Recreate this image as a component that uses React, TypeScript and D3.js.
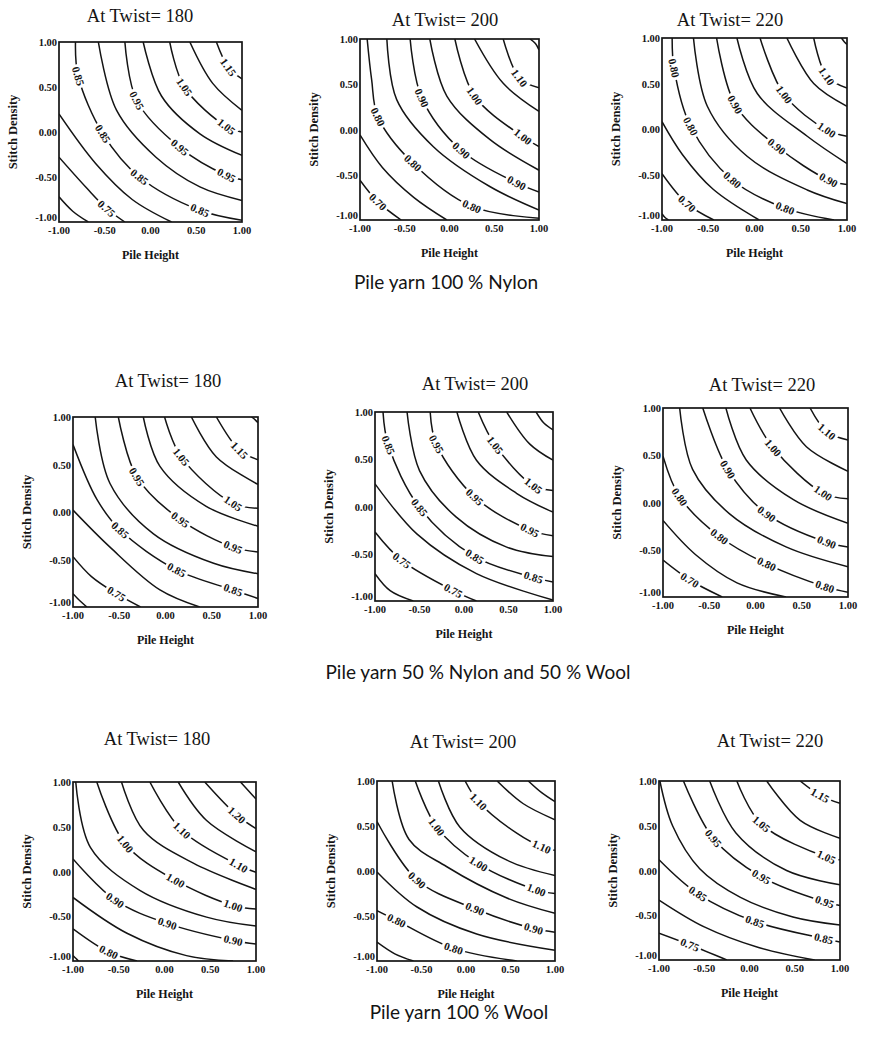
import * as d3 from "d3";

// [level, contour points in (pile height, stitch density), indices of labelled points]
type Contour = [number, [number, number][], number[]];

const nylon180: Contour[] = [
  [0.7, [[-1, -0.72], [-0.85, -0.88], [-0.68, -1]], []],
  [0.75, [[-1, -0.28], [-0.7, -0.62], [-0.48, -0.85], [-0.28, -1]], [2]],
  [0.8, [[-1, 0.2], [-0.6, -0.35], [-0.2, -0.75], [0.23, -1]], []],
  [0.85, [[-0.82, 1], [-0.79, 0.62], [-0.52, -0.02], [-0.12, -0.5], [0.54, -0.87], [1, -0.98]], [1, 2, 3, 4]],
  [0.9, [[-0.57, 1], [-0.37, 0.24], [0.06, -0.28], [0.54, -0.61], [1, -0.76]], []],
  [0.95, [[-0.28, 1], [-0.15, 0.35], [0.32, -0.17], [0.83, -0.48], [1, -0.53]], [1, 2, 3]],
  [1.0, [[-0.08, 1], [0.12, 0.4], [0.54, -0.02], [1, -0.26]], []],
  [1.05, [[0.21, 1], [0.37, 0.5], [0.83, 0.06], [1, 0]], [1, 2]],
  [1.1, [[0.43, 1], [0.68, 0.54], [1, 0.24]], []],
  [1.15, [[0.72, 1], [0.85, 0.72], [1, 0.59]], [1]],
];

const nylon200: Contour[] = [
  [0.7, [[-1, -0.56], [-0.8, -0.8], [-0.54, -1]], [1]],
  [0.75, [[-1, -0.06], [-0.75, -0.42], [-0.4, -0.75], [-0.03, -1]], []],
  [0.8, [[-0.92, 1], [-0.87, 0.55], [-0.8, 0.14], [-0.41, -0.37], [0.25, -0.85], [1, -0.98]], [2, 3, 4]],
  [0.85, [[-0.7, 1], [-0.59, 0.33], [-0.18, -0.19], [0.45, -0.63], [1, -0.89]], []],
  [0.9, [[-0.44, 1], [-0.31, 0.35], [0.13, -0.23], [0.75, -0.59], [1, -0.69]], [1, 2, 3]],
  [0.95, [[-0.22, 1], [-0.03, 0.37], [0.45, -0.11], [1, -0.45]], []],
  [1.0, [[0.06, 1], [0.28, 0.37], [0.82, -0.08], [1, -0.19]], [1, 2]],
  [1.05, [[0.28, 1], [0.6, 0.51], [1, 0.2]], []],
  [1.1, [[0.6, 1], [0.78, 0.57], [1, 0.46]], [1]],
  [1.15, [[0.9, 1], [0.96, 0.95], [1, 0.88]], []],
];

const nylon220: Contour[] = [
  [0.65, [[-1, -0.93], [-0.97, -0.97], [-0.93, -1]], []],
  [0.7, [[-1, -0.49], [-0.73, -0.82], [-0.44, -1]], [1]],
  [0.75, [[-1, 0.08], [-0.78, -0.28], [-0.45, -0.66], [0.05, -1]], []],
  [0.8, [[-0.89, 1], [-0.87, 0.67], [-0.69, 0.03], [-0.24, -0.56], [0.33, -0.87], [0.86, -1]], [1, 2, 3, 4]],
  [0.85, [[-0.66, 1], [-0.51, 0.25], [-0.08, -0.3], [0.57, -0.67], [1, -0.82]], []],
  [0.9, [[-0.41, 1], [-0.21, 0.27], [0.24, -0.19], [0.8, -0.56], [1, -0.61]], [1, 2, 3]],
  [0.95, [[-0.19, 1], [0.03, 0.39], [0.57, -0.08], [1, -0.38]], []],
  [1.0, [[0.06, 1], [0.32, 0.38], [0.78, -0.01], [1, -0.08]], [1, 2]],
  [1.05, [[0.35, 1], [0.64, 0.5], [1, 0.25]], []],
  [1.1, [[0.64, 1], [0.78, 0.58], [1, 0.45]], [1]],
  [1.15, [[0.94, 1], [0.97, 0.96], [1, 0.93]], []],
];

const blend180: Contour[] = [
  [0.7, [[-1, -0.86], [-0.92, -0.94], [-0.85, -1]], []],
  [0.75, [[-1, -0.47], [-0.8, -0.68], [-0.53, -0.86], [-0.27, -1]], [2]],
  [0.8, [[-1, 0.02], [-0.6, -0.37], [-0.06, -0.82], [0.37, -1]], []],
  [0.85, [[-1, 0.71], [-0.74, 0.13], [-0.49, -0.19], [0.12, -0.61], [0.73, -0.82], [1, -0.91]], [2, 3, 4]],
  [0.9, [[-0.76, 1], [-0.6, 0.3], [-0.13, -0.23], [0.52, -0.54], [1, -0.65]], []],
  [0.95, [[-0.51, 1], [-0.31, 0.37], [0.16, -0.08], [0.73, -0.37], [1, -0.42]], [1, 2, 3]],
  [1.0, [[-0.24, 1], [-0.06, 0.48], [0.44, 0.06], [1, -0.15]], []],
  [1.05, [[-0.01, 1], [0.17, 0.58], [0.73, 0.09], [1, 0.04]], [1, 2]],
  [1.1, [[0.28, 1], [0.55, 0.58], [1, 0.29]], []],
  [1.15, [[0.55, 1], [0.8, 0.65], [1, 0.55]], [1]],
  [1.2, [[0.93, 1], [0.97, 0.97], [1, 0.94]], []],
];

const blend200: Contour[] = [
  [0.7, [[-1, -0.71], [-0.83, -0.89], [-0.57, -1]], []],
  [0.75, [[-1, -0.27], [-0.7, -0.57], [-0.12, -0.89], [0.14, -1]], [1, 2]],
  [0.8, [[-1, 0.24], [-0.53, -0.29], [0.14, -0.71], [1, -0.99]], []],
  [0.85, [[-0.91, 1], [-0.85, 0.65], [-0.5, -0.01], [0.12, -0.53], [0.78, -0.75], [1, -0.8]], [1, 2, 3, 4]],
  [0.9, [[-0.64, 1], [-0.5, 0.38], [-0.09, -0.11], [0.48, -0.43], [1, -0.53]], []],
  [0.95, [[-0.38, 1], [-0.31, 0.66], [0.12, 0.1], [0.74, -0.25], [1, -0.31]], [1, 2, 3]],
  [1.0, [[-0.08, 1], [0.14, 0.49], [0.59, 0.14], [1, -0.06]], []],
  [1.05, [[0.16, 1], [0.35, 0.65], [0.78, 0.22], [1, 0.17]], [1, 2]],
  [1.1, [[0.48, 1], [0.74, 0.66], [1, 0.49]], []],
  [1.15, [[0.81, 1], [0.9, 0.88], [1, 0.81]], []],
];

const blend220: Contour[] = [
  [0.7, [[-1, -0.61], [-0.71, -0.82], [-0.36, -1]], [1]],
  [0.75, [[-1, -0.19], [-0.65, -0.55], [-0.2, -0.85], [0.33, -1]], []],
  [0.8, [[-1, 0.49], [-0.82, 0.06], [-0.39, -0.36], [0.12, -0.65], [0.75, -0.89], [1, -0.95]], [1, 2, 3, 4]],
  [0.85, [[-0.82, 1], [-0.68, 0.35], [-0.28, -0.12], [0.33, -0.47], [1, -0.68]], []],
  [0.9, [[-0.57, 1], [-0.3, 0.35], [0.12, -0.12], [0.77, -0.42], [1, -0.47]], [1, 2, 3]],
  [0.95, [[-0.32, 1], [-0.1, 0.45], [0.41, 0.03], [1, -0.22]], []],
  [1.0, [[-0.06, 1], [0.19, 0.58], [0.73, 0.1], [1, 0.04]], [1, 2]],
  [1.05, [[0.26, 1], [0.55, 0.59], [1, 0.33]], []],
  [1.1, [[0.59, 1], [0.77, 0.75], [1, 0.66]], [1]],
];

const wool180: Contour[] = [
  [0.75, [[-1, -0.94], [-0.97, -0.97], [-0.94, -1]], []],
  [0.8, [[-1, -0.64], [-0.61, -0.9], [-0.3, -1]], [1]],
  [0.85, [[-1, -0.29], [-0.41, -0.69], [0.24, -0.94], [0.75, -1]], []],
  [0.9, [[-1, 0.14], [-0.54, -0.32], [0.03, -0.58], [0.75, -0.77], [1, -0.81]], [1, 2, 3]],
  [0.95, [[-0.97, 1], [-0.81, 0.27], [-0.27, -0.21], [0.46, -0.51], [1, -0.61]], []],
  [1.0, [[-0.74, 1], [-0.43, 0.31], [0.12, -0.1], [0.75, -0.38], [1, -0.42]], [1, 2, 3]],
  [1.05, [[-0.47, 1], [-0.23, 0.46], [0.32, 0.09], [1, -0.2]], []],
  [1.1, [[-0.16, 1], [0.19, 0.46], [0.81, 0.07], [1, -0.01]], [1, 2]],
  [1.15, [[0.15, 1], [0.46, 0.57], [1, 0.22]], []],
  [1.2, [[0.44, 1], [0.79, 0.63], [1, 0.48]], [1]],
  [1.25, [[0.83, 1], [0.92, 0.9], [1, 0.81]], []],
];

const wool200: Contour[] = [
  [0.75, [[-1, -0.79], [-0.8, -0.92], [-0.59, -1]], []],
  [0.8, [[-1, -0.44], [-0.78, -0.55], [-0.14, -0.86], [0.57, -1]], [1, 2]],
  [0.85, [[-1, -0.01], [-0.55, -0.4], [0.12, -0.7], [1, -0.88]], []],
  [0.9, [[-1, 0.55], [-0.55, -0.1], [0.1, -0.42], [0.76, -0.64], [1, -0.68]], [1, 2, 3]],
  [0.95, [[-0.83, 1], [-0.64, 0.35], [-0.22, 0.05], [0.46, -0.3], [1, -0.47]], []],
  [1.0, [[-0.57, 1], [-0.33, 0.49], [0.14, 0.08], [0.79, -0.21], [1, -0.25]], [1, 2, 3]],
  [1.05, [[-0.31, 1], [-0.07, 0.49], [0.46, 0.12], [1, -0.05]], []],
  [1.1, [[-0.01, 1], [0.14, 0.77], [0.57, 0.42], [0.85, 0.27], [1, 0.23]], [1, 3]],
  [1.15, [[0.35, 1], [0.64, 0.75], [1, 0.57]], []],
  [1.2, [[0.7, 1], [0.85, 0.87], [1, 0.77]], []],
];

const wool220: Contour[] = [
  [0.75, [[-1, -0.7], [-0.66, -0.83], [-0.25, -1]], [1]],
  [0.8, [[-1, -0.33], [-0.5, -0.63], [0.1, -0.86], [0.72, -1]], []],
  [0.85, [[-1, 0.12], [-0.57, -0.26], [0.06, -0.57], [0.82, -0.76], [1, -0.8]], [1, 2, 3]],
  [0.9, [[-0.99, 1], [-0.85, 0.5], [-0.55, 0.02], [-0.1, -0.3], [0.48, -0.52], [1, -0.61]], []],
  [0.95, [[-0.73, 1], [-0.4, 0.36], [0.13, -0.07], [0.83, -0.35], [1, -0.39]], [1, 2, 3]],
  [1.0, [[-0.44, 1], [-0.15, 0.42], [0.41, 0], [1, -0.16]], []],
  [1.05, [[-0.14, 1], [0.13, 0.52], [0.85, 0.15], [1, 0.12]], [1, 2]],
  [1.1, [[0.19, 1], [0.56, 0.56], [1, 0.36]], []],
  [1.15, [[0.56, 1], [0.78, 0.84], [1, 0.75]], [1]],
];

const twistTitles = ["At Twist= 180", "At Twist= 200", "At Twist= 220"];
const yarnCaptions = ["Pile yarn 100 % Nylon", "Pile yarn 50 % Nylon and 50 % Wool", "Pile yarn 100 % Wool"];
const tickValues = [-1, -0.5, 0, 0.5, 1];
const xAxisTitle = "Pile Height";
const yAxisTitle = "Stitch Density";

const width = 873;
const height = 1050;
const ink = "#141414";
const serif = "'Liberation Serif', 'Times New Roman', serif";

// plot boxes [left, top, right, bottom] and title anchors
const panels = [
  { data: nylon180, title: 0, box: [59, 42, 242, 222], tx: 140, ty: 22 },
  { data: nylon200, title: 1, box: [360, 39, 539, 220], tx: 445, ty: 26 },
  { data: nylon220, title: 2, box: [662, 38, 847, 220], tx: 730, ty: 26 },
  { data: blend180, title: 0, box: [73, 417, 258, 607], tx: 168, ty: 387 },
  { data: blend200, title: 1, box: [375, 412, 553, 601], tx: 475, ty: 390 },
  { data: blend220, title: 2, box: [663, 408, 848, 597], tx: 762, ty: 391 },
  { data: wool180, title: 0, box: [73, 782, 256, 961], tx: 157, ty: 745 },
  { data: wool200, title: 1, box: [377, 781, 555, 961], tx: 463, ty: 748 },
  { data: wool220, title: 2, box: [659, 781, 840, 960], tx: 770, ty: 747 },
];

const captionPos = [
  { x: 446, y: 289 },
  { x: 478, y: 679 },
  { x: 459, y: 1019 },
];

function ContourPanel({ data, title, box, tx, ty, id }: { data: Contour[]; title: number; box: number[]; tx: number; ty: number; id: number }) {
  const [left, top, right, bottom] = box;
  const xScale = d3.scaleLinear().domain([-1, 1]).range([left, right]);
  const yScale = d3.scaleLinear().domain([-1, 1]).range([bottom, top]);
  const line = d3.line<[number, number]>().curve(d3.curveCatmullRom.alpha(0.5));
  const clipId = `clip-${id}`;

  const projected = data.map(([level, pts, labels]) => ({
    level,
    labels,
    px: pts.map(([x, y]) => [xScale(x), yScale(y)] as [number, number]),
  }));

  return (
    <g>
      <defs>
        <clipPath id={clipId}>
          <rect x={left} y={top} width={right - left} height={bottom - top} />
        </clipPath>
      </defs>
      <text x={tx} y={ty} textAnchor="middle" fontFamily={serif} fontSize={18.5} fill={ink}>
        {twistTitles[title]}
      </text>
      <g clipPath={`url(#${clipId})`}>
        {projected.map((c, i) => (
          <path key={`c-${i}`} d={line(c.px) ?? ""} fill="none" stroke={ink} strokeWidth={1.5} />
        ))}
        {projected.map((c, i) =>
          c.labels.map((li) => {
            const [cx, cy] = c.px[li];
            const a = c.px[Math.max(0, li - 1)];
            const b = c.px[Math.min(c.px.length - 1, li + 1)];
            let ang = (Math.atan2(b[1] - a[1], b[0] - a[0]) * 180) / Math.PI;
            if (ang > 90) ang -= 180;
            if (ang < -90) ang += 180;
            return (
              <g key={`l-${i}-${li}`} transform={`translate(${cx},${cy}) rotate(${ang})`}>
                <rect x={-12} y={-5.5} width={24} height={11} fill="#fff" />
                <text textAnchor="middle" dy="0.35em" fontFamily={serif} fontWeight="bold" fontSize={11} fill={ink}>
                  {c.level.toFixed(2)}
                </text>
              </g>
            );
          })
        )}
      </g>
      <rect x={left} y={top} width={right - left} height={bottom - top} fill="none" stroke={ink} strokeWidth={1.7} />
      {tickValues.map((t) => (
        <text key={`x-${t}`} x={xScale(t)} y={bottom + 12} textAnchor="middle" fontFamily={serif} fontWeight="bold" fontSize={10.5} fill={ink}>
          {t.toFixed(2)}
        </text>
      ))}
      {tickValues.map((t) => (
        <text key={`y-${t}`} x={left - 2} y={yScale(t) + (t === -1 ? -1 : 4)} textAnchor="end" fontFamily={serif} fontWeight="bold" fontSize={10.5} fill={ink}>
          {t.toFixed(2)}
        </text>
      ))}
      <text x={(left + right) / 2} y={bottom + 37} textAnchor="middle" fontFamily={serif} fontWeight="bold" fontSize={12} fill={ink}>
        {xAxisTitle}
      </text>
      <text transform={`translate(${left - 42}, ${(top + bottom) / 2}) rotate(-90)`} textAnchor="middle" fontFamily={serif} fontWeight="bold" fontSize={12.5} fill={ink}>
        {yAxisTitle}
      </text>
    </g>
  );
}

export default function App() {
  return (
    <svg width={width} height={height} viewBox={`0 0 ${width} ${height}`} style={{ position: "absolute", left: 0, top: 0, display: "block", background: "#fff" }}>
      {panels.map((p, i) => (
        <ContourPanel key={i} id={i} data={p.data} title={p.title} box={p.box} tx={p.tx} ty={p.ty} />
      ))}
      {yarnCaptions.map((c, i) => (
        <text key={c} x={captionPos[i].x} y={captionPos[i].y} textAnchor="middle" fontFamily="Lato, 'Noto Sans', sans-serif" fontSize={19} fill={ink}>
          {c}
        </text>
      ))}
    </svg>
  );
}
